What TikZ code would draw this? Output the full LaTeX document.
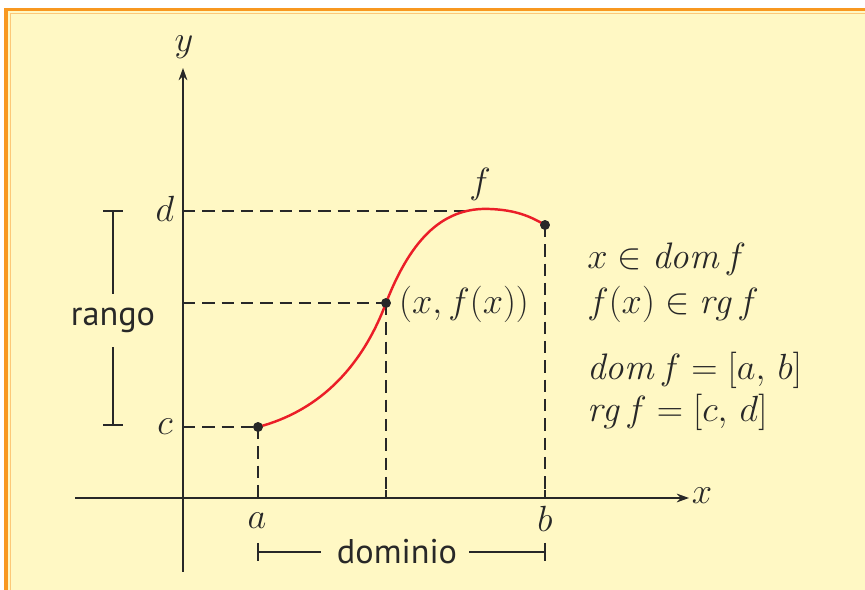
\documentclass[tikz,border=0pt]{standalone}
\usepackage{fontspec}
\setsansfont{PT Sans}
\usetikzlibrary{arrows.meta}
\definecolor{paper}{RGB}{255,248,196}
\definecolor{frame}{RGB}{248,152,32}
\definecolor{frameb}{RGB}{252,200,120}
\definecolor{ink}{RGB}{40,40,40}
\definecolor{curve}{RGB}{235,30,40}
\tikzset{
  axis/.style={draw=ink,line width=0.9pt,-{Stealth[length=7pt,width=5pt]}},
  guide/.style={draw=ink,line width=0.9pt,dash pattern=on 7pt off 4pt},
  bar/.style={draw=ink,line width=0.9pt},
  dot/.style={circle,fill=ink,inner sep=0pt,minimum size=5.5pt},
  lbl/.style={font=\fontsize{21}{25}\selectfont,text=ink},
  rel/.style={lbl,anchor=west,inner sep=0pt},
  word/.style={font=\sffamily\fontsize{19.5}{23}\selectfont,text=ink},
}
\begin{document}
\begin{tikzpicture}[x=0.02cm,y=-0.02cm]
\useasboundingbox (0,0) rectangle (865,590);
% frame
\fill[paper] (4,8) rectangle (865,590);
\fill[frame] (4,8) rectangle (865,11);
\fill[frame] (4,8) rectangle (8,590);
\fill[frameb] (10,13) rectangle (865,14);
\fill[frameb] (10,13) rectangle (11,590);
% axes
\coordinate (xl) at (75,498);
\coordinate (xr) at (689,498);
\coordinate (yb) at (183,572);
\coordinate (yt) at (183,68);
\draw[axis] (xl) -- (xr);
\draw[axis] (yb) -- (yt);
\node[lbl] (xlab) at (702,496) {$x$};
\node[lbl] (ylab) at (184,47) {$y$};
% points on the curve
\node[dot] (pa) at (258,427) {};
\node[dot] (px) at (386,303) {};
\node[dot] (pb) at (545,225) {};
\coordinate (top) at (490,209);
% feet on the axes
\coordinate (fa) at (258,498);
\coordinate (fx) at (386,498);
\coordinate (fb) at (545,498);
\coordinate (yc) at (183,427);
\coordinate (yx) at (183,303);
\coordinate (yd) at (183,211);
\coordinate (dend) at (472,211);
% ticks
\foreach \t in {fa,fx,fb}
  \draw[bar] (\t) -- ++(0,-8);
% guides
\draw[guide] (yd) -- (dend);
\draw[guide] (yx) -- (px.center);
\draw[guide] (yc) -- (pa.center);
\draw[guide] (pa.center) -- (fa);
\draw[guide] (px.center) -- (fx);
\draw[guide] (pb.center) -- (fb);
% the graph
\draw[curve,line width=1.4pt] (pa.center) .. controls (315,412) and (360,372) .. (px.center)
  .. controls (412,236) and (445,207) .. (top) .. controls (515,210) and (530,216) .. (pb.center);
\node[dot] at (pa) {};
\node[dot] at (px) {};
\node[dot] at (pb) {};
% labels
\node[lbl] (la) at (257,521) {$a$};
\node[lbl] (lb) at (545,519) {$b$};
\node[lbl] (lc) at (165,427) {$c$};
\node[lbl] (ld) at (165,209) {$d$};
\node[lbl] (lf) at (480,184) {$f$};
\node[lbl,anchor=west] (lxf) at (393,304) {$(x, f(x))$};
% rango
\node[word] (rango) at (113,320) {rango};
\coordinate (rt) at (113,211);
\coordinate (rb) at (113,425);
\draw[bar] (rt) -- (rango.north |- 0,294);
\draw[bar] (rb) -- (rango.south |- 0,347);
\draw[bar] (rt) ++(-10,0) -- ++(20,0);
\draw[bar] (rb) ++(-10,0) -- ++(20,0);
% dominio
\node[word] (dominio) at (397,552) {dominio};
\coordinate (dl) at (258,552);
\coordinate (dr) at (545,552);
\draw[bar] (dl) -- (dominio.west -| 321,0);
\draw[bar] (dr) -- (dominio.east -| 469,0);
\draw[bar] (dl) ++(0,-9) -- ++(0,18);
\draw[bar] (dr) ++(0,-9) -- ++(0,18);
% relations
\node[rel] (r1) at (587,259) {$x \in \mathit{dom}\, f$};
\node[rel] (r2) at (587,304) {$f(x) \in \mathit{rg}\, f$};
\node[rel] (r3) at (587,370) {$\mathit{dom}\, f = [a,\, b]$};
\node[rel] (r4) at (587,412) {$\mathit{rg}\, f = [c,\, d]$};
\end{tikzpicture}
\end{document}
